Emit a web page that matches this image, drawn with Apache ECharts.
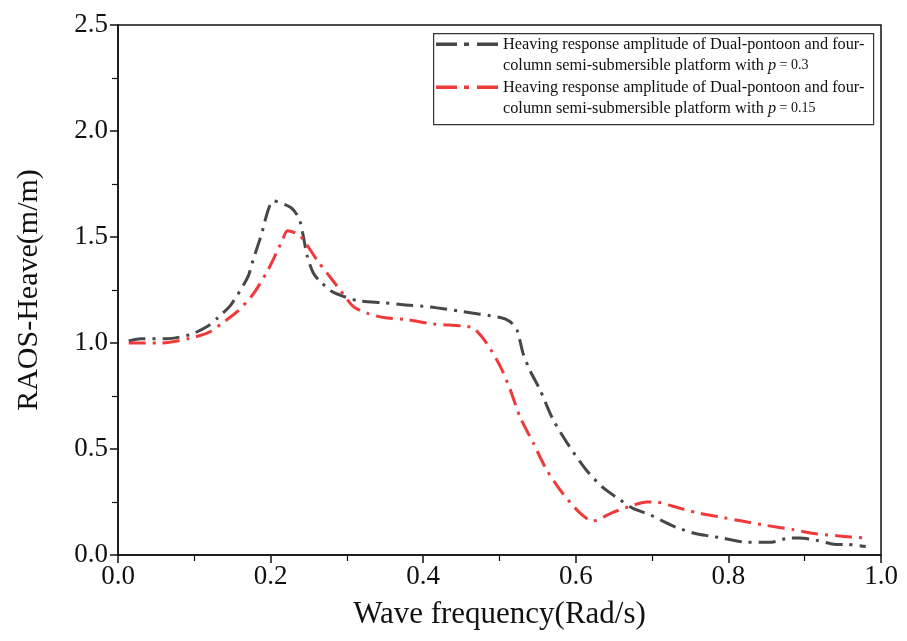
<!DOCTYPE html>
<html>
<head>
<meta charset="utf-8">
<script src="https://cdn.jsdelivr.net/npm/echarts@6/dist/echarts.min.js"></script>
<style>html,body{margin:0;padding:0;background:#fff}#c{width:907px;height:641px}</style>
</head>
<body>
<div id="c"></div>
<script>
// Data
const xTicks = ['0.0','0.2','0.4','0.6','0.8','1.0'];
const yTicks = ['0.0','0.5','1.0','1.5','2.0','2.5'];

const freqP03 = [0.014,0.030,0.063,0.095,0.118,0.131,0.148,0.170,0.177,0.187,0.204,0.226,0.237,0.242,0.248,0.256,0.265,0.282,0.314,0.348,0.374,0.409,0.448,0.501,0.514,0.523,0.531,0.540,0.553,0.570,0.592,0.614,0.635,0.658,0.675,0.697,0.714,0.732,0.758,0.775,0.792,0.824,0.856,0.880,0.893,0.915,0.941,0.954,0.980];
const heaveP03 = [1.01,1.02,1.02,1.04,1.08,1.12,1.18,1.31,1.39,1.50,1.67,1.64,1.59,1.52,1.41,1.33,1.29,1.24,1.20,1.19,1.18,1.17,1.15,1.12,1.10,1.06,0.95,0.87,0.78,0.64,0.51,0.40,0.32,0.26,0.22,0.19,0.16,0.13,0.10,0.09,0.08,0.06,0.06,0.08,0.08,0.07,0.05,0.05,0.04];

const freqP015 = [0.014,0.056,0.092,0.119,0.139,0.157,0.177,0.196,0.207,0.216,0.222,0.237,0.250,0.261,0.274,0.291,0.309,0.327,0.348,0.379,0.413,0.452,0.466,0.483,0.501,0.514,0.527,0.544,0.562,0.583,0.605,0.622,0.648,0.671,0.693,0.705,0.727,0.758,0.788,0.818,0.849,0.884,0.915,0.945,0.978];
const heaveP015 = [1.00,1.00,1.02,1.05,1.10,1.15,1.23,1.34,1.42,1.49,1.53,1.51,1.45,1.39,1.33,1.25,1.17,1.14,1.12,1.11,1.09,1.08,1.07,1.00,0.89,0.78,0.65,0.53,0.40,0.29,0.20,0.16,0.20,0.23,0.25,0.25,0.23,0.20,0.18,0.16,0.14,0.12,0.10,0.09,0.08];

const seriesNames = ['p = 0.3', 'p = 0.15'];
const legendLine1 = 'Heaving response amplitude of Dual-pontoon and four-';
const legendLine2 = 'column semi-submersible platform with ';
const pValues = ['0.3', '0.15'];
const colors = ['#474747', '#f03a3a'];

const zip = (xs, ys) => xs.map((x, i) => [x, ys[i]]);
const FONT = '"Liberation Serif", "Times New Roman", serif';
const dashIcon = 'path://M0,0H21V3.5H0Z M28,0H33V3.5H28Z M41,0H62V3.5H41Z';

const chart = echarts.init(document.getElementById('c'), null, {renderer: 'canvas'});
chart.setOption({
  animation: false,
  backgroundColor: '#fff',
  textStyle: {fontFamily: FONT},
  grid: {left: 118, right: 26, top: 25, bottom: 86, show: true, borderColor: '#111', borderWidth: 1.5, containLabel: false},
  graphic: [{
    type: 'rect', left: 433, top: 33, z: 50,
    shape: {width: 440, height: 91},
    style: {fill: '#fff', stroke: '#333', lineWidth: 1.2}
  }],
  legend: {
    orient: 'vertical', left: 436, top: 12, padding: 0, itemGap: -21.5,
    itemWidth: 62, itemHeight: 14, z: 60,
    data: seriesNames.map(n => ({name: n, icon: dashIcon})),
    formatter: name => {
      const i = seriesNames.indexOf(name);
      return '\n' + legendLine1 + '\n' + legendLine2 + '{it|p}{sm| = ' + pValues[i] + '}';
    },
    textStyle: {
      fontFamily: FONT, fontSize: 16.3, lineHeight: 21.5, color: '#111',
      rich: {
        it: {fontFamily: FONT, fontSize: 16.3, fontStyle: 'italic', lineHeight: 21.5, color: '#111'},
        sm: {fontFamily: FONT, fontSize: 14, lineHeight: 21.5, color: '#111'}
      }
    }
  },
  xAxis: {
    type: 'value', min: 0, max: 1, interval: 0.2,
    name: 'Wave frequency(Rad/s)', nameLocation: 'middle', nameGap: 44,
    nameTextStyle: {fontFamily: FONT, fontSize: 31, color: '#111'},
    axisLine: {show: true, lineStyle: {color: '#111', width: 1.5}},
    axisTick: {show: true, length: 8, lineStyle: {color: '#111', width: 1.5}},
    minorTick: {show: true, splitNumber: 2, length: 6, lineStyle: {color: '#111', width: 1.2}},
    splitLine: {show: false},
    axisLabel: {fontFamily: FONT, fontSize: 27, color: '#111', margin: 8,
      formatter: v => xTicks[Math.round(v / 0.2)]}
  },
  yAxis: {
    type: 'value', min: 0, max: 2.5, interval: 0.5,
    name: 'RAOS-Heave(m/m)', nameLocation: 'middle', nameGap: 74, nameRotate: 90,
    nameTextStyle: {fontFamily: FONT, fontSize: 30, color: '#111'},
    axisLine: {show: true, lineStyle: {color: '#111', width: 1.5}},
    axisTick: {show: true, length: 8, lineStyle: {color: '#111', width: 1.5}},
    minorTick: {show: true, splitNumber: 2, length: 6, lineStyle: {color: '#111', width: 1.2}},
    splitLine: {show: false},
    axisLabel: {fontFamily: FONT, fontSize: 27, color: '#111', margin: 10,
      formatter: v => yTicks[Math.round(v / 0.5)]}
  },
  series: [
    {
      name: seriesNames[0], type: 'line', data: zip(freqP03, heaveP03),
      showSymbol: false, symbol: 'none', smooth: 0.25, color: colors[0],
      lineStyle: {color: colors[0], width: 3, type: [17, 7, 3, 7]}
    },
    {
      name: seriesNames[1], type: 'line', data: zip(freqP015, heaveP015),
      showSymbol: false, symbol: 'none', smooth: 0.25, color: colors[1],
      lineStyle: {color: colors[1], width: 3, type: [17, 7, 3, 7]}
    }
  ]
});
</script>
</body>
</html>
